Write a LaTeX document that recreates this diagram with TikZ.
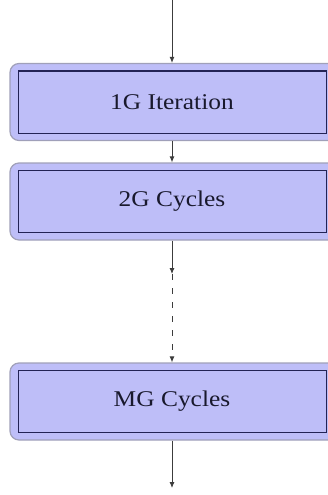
\documentclass[tikz,border=0pt]{standalone}
\usepackage{fontspec}
\setmainfont{Liberation Serif}
\usetikzlibrary{arrows.meta}
\definecolor{boxfill}{RGB}{190,190,248}
\definecolor{outerline}{RGB}{160,160,185}
\definecolor{innerline}{RGB}{35,35,85}
\definecolor{textcol}{RGB}{25,25,45}
\definecolor{arrowcol}{RGB}{60,60,60}
\tikzset{
  outerbox/.style={draw=outerline, fill=boxfill, line width=1.2pt, rounded corners=9pt, minimum width=330pt, minimum height=77pt, inner sep=0pt},
  innerbox/.style={draw=innerline, fill=boxfill, line width=1pt, minimum width=308pt, minimum height=62pt, inner sep=0pt, font=\fontsize{22.5}{26}\selectfont, text=textcol},
  conn/.style={draw=arrowcol, line width=0.9pt, -{Latex[length=6pt,width=5pt]}},
  dconn/.style={conn, dash pattern=on 6pt off 8pt}
}
\begin{document}
\begin{tikzpicture}[x=1pt,y=-1pt]
\clip (0,0) rectangle (328,495);
\useasboundingbox (0,0) rectangle (328,495);
\fill[white] (0,0) rectangle (328,495);
\node[outerbox] (o1) at (175,102) {};
\node[innerbox] (i1) at (172,102) {\raisebox{-3pt}{\scalebox{1.13}[1]{1G Iteration}}};
\node[outerbox] (o2) at (175,201.5) {};
\node[innerbox] (i2) at (172,201.5) {\raisebox{-3pt}{\scalebox{1.13}[1]{2G Cycles}}};
\node[outerbox] (o3) at (175,401.5) {};
\node[innerbox] (i3) at (172,401.5) {\raisebox{-3pt}{\scalebox{1.13}[1]{MG Cycles}}};
\coordinate (top) at (172,0);
\coordinate (mid) at (172,274);
\coordinate (bot) at (172,488);
\draw[conn] (top) -- (o1.north -| top);
\draw[conn] (o1.south -| top) -- (o2.north -| top);
\draw[conn] (o2.south -| top) -- (mid);
\draw[dconn] (mid) -- (o3.north -| top);
\draw[conn] (o3.south -| top) -- (bot);
\end{tikzpicture}
\end{document}
